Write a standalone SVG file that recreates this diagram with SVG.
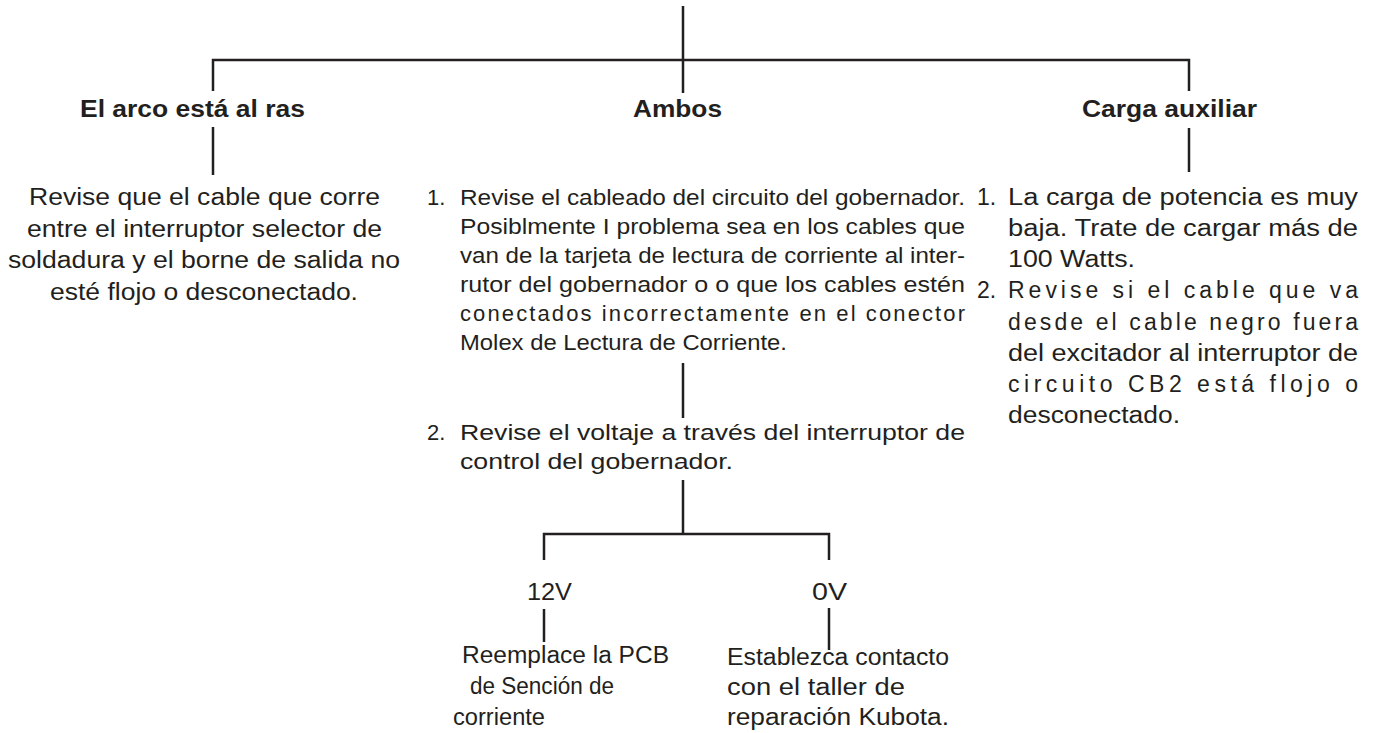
<svg xmlns="http://www.w3.org/2000/svg" width="1379" height="733" viewBox="0 0 1379 733">
<style>
text{font-family:"Liberation Sans",Arial,Helvetica,sans-serif;fill:#231f20;font-size:23px}
.h{font-weight:bold}
.m{font-size:22px}
.c{stroke:#231f20;stroke-width:2.5;fill:none}
</style>
<rect width="1379" height="733" fill="#fff"/>
<g id="connectors" class="c">
<path d="M683 6V60M213 91V60H1189V91M683 60V93"/>
<path d="M213 127V175"/>
<path d="M1189 128V172"/>
<path d="M683 363V418"/>
<path d="M683 480V534M544 560V534H829V560"/>
<path d="M544 609V642"/>
<path d="M829 608V650"/>
</g>
<g id="h-arco"><text class="h" x="80" y="117" textLength="225" lengthAdjust="spacingAndGlyphs">El arco está al ras</text></g>
<g id="h-ambos"><text class="h" x="633" y="117" textLength="89" lengthAdjust="spacingAndGlyphs">Ambos</text></g>
<g id="h-carga"><text class="h" x="1082" y="117" textLength="175" lengthAdjust="spacingAndGlyphs">Carga auxiliar</text></g>
<g id="t-arco">
<text x="29" y="205" textLength="351" lengthAdjust="spacingAndGlyphs">Revise que el cable que corre</text>
<text x="27" y="237" textLength="355" lengthAdjust="spacingAndGlyphs">entre el interruptor selector de</text>
<text x="8" y="268" textLength="392" lengthAdjust="spacingAndGlyphs">soldadura y el borne de salida no</text>
<text x="50" y="300" textLength="308" lengthAdjust="spacingAndGlyphs">esté flojo o desconectado.</text>
</g>
<g id="t-ambos-1">
<text class="m" x="427" y="205">1.</text>
<text class="m" x="460" y="205" textLength="505" lengthAdjust="spacingAndGlyphs">Revise el cableado del circuito del gobernador.</text>
<text class="m" x="460" y="234" textLength="505" lengthAdjust="spacingAndGlyphs">Posiblmente I problema sea en los cables que</text>
<text class="m" x="460" y="263" textLength="505" lengthAdjust="spacingAndGlyphs">van de la tarjeta de lectura de corriente al inter-</text>
<text class="m" x="460" y="292" textLength="505" lengthAdjust="spacingAndGlyphs">rutor del gobernador o o que los cables estén</text>
<text class="m" x="460" y="321" textLength="505" lengthAdjust="spacing">conectados incorrectamente en el conector</text>
<text class="m" x="460" y="350" textLength="327" lengthAdjust="spacingAndGlyphs">Molex de Lectura de Corriente.</text>
</g>
<g id="t-ambos-2">
<text class="m" x="427" y="440">2.</text>
<text class="m" x="460" y="440" textLength="505" lengthAdjust="spacingAndGlyphs">Revise el voltaje a través del interruptor de</text>
<text class="m" x="460" y="469" textLength="273" lengthAdjust="spacingAndGlyphs">control del gobernador.</text>
</g>
<g id="t-carga">
<text x="977" y="205">1.</text>
<text x="1008" y="205" textLength="350" lengthAdjust="spacingAndGlyphs">La carga de potencia es muy</text>
<text x="1008" y="236" textLength="350" lengthAdjust="spacingAndGlyphs">baja. Trate de cargar más de</text>
<text x="1008" y="267" textLength="127" lengthAdjust="spacingAndGlyphs">100 Watts.</text>
<text x="977" y="298">2.</text>
<text x="1008" y="298" textLength="350" lengthAdjust="spacing">Revise si el cable que va</text>
<text x="1008" y="330" textLength="350" lengthAdjust="spacing">desde el cable negro fuera</text>
<text x="1008" y="361" textLength="350" lengthAdjust="spacingAndGlyphs">del excitador al interruptor de</text>
<text x="1008" y="392" textLength="350" lengthAdjust="spacing">circuito CB2 está flojo o</text>
<text x="1008" y="423" textLength="172" lengthAdjust="spacingAndGlyphs">desconectado.</text>
</g>
<g id="v12"><text x="527" y="600" textLength="45" lengthAdjust="spacingAndGlyphs">12V</text></g>
<g id="v0"><text x="812" y="600" textLength="35" lengthAdjust="spacingAndGlyphs">0V</text></g>
<g id="t-12v">
<text x="462" y="663" textLength="207" lengthAdjust="spacingAndGlyphs">Reemplace la PCB</text>
<text x="470" y="694" textLength="144" lengthAdjust="spacingAndGlyphs">de Sención de</text>
<text x="453" y="725" textLength="92" lengthAdjust="spacingAndGlyphs">corriente</text>
</g>
<g id="t-0v">
<text x="727" y="665" textLength="222" lengthAdjust="spacingAndGlyphs">Establezca contacto</text>
<text x="727" y="695" textLength="178" lengthAdjust="spacingAndGlyphs">con el taller de</text>
<text x="727" y="725" textLength="222" lengthAdjust="spacingAndGlyphs">reparación Kubota.</text>
</g>
</svg>
